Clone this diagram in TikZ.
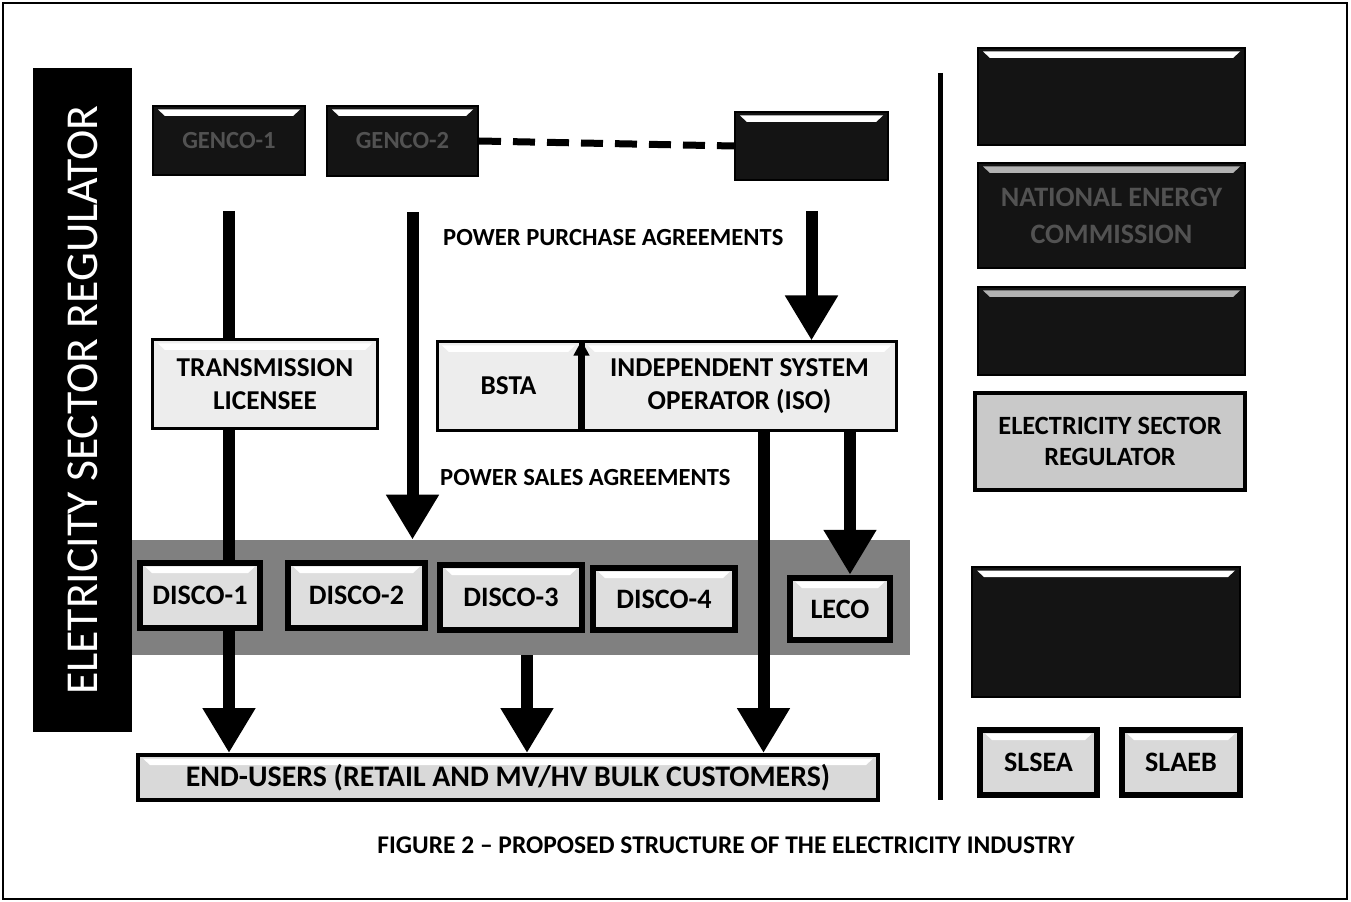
\documentclass[tikz,border=0pt]{standalone}
\usepackage{fontspec}
\setmainfont{Carlito}
\usetikzlibrary{arrows.meta,positioning}
\pgfdeclarelayer{back}
\pgfdeclarelayer{lines}
\pgfsetlayers{back,lines,main}

\begin{document}
\begin{tikzpicture}[x=0.2mm, y=-0.2mm, node distance=0mm,
 bevel/.style={path picture={\fill[#1] ([xshift=1mm,yshift=-0.7mm]path picture bounding box.north west) -- ([xshift=-1mm,yshift=-0.7mm]path picture bounding box.north east) -- ([xshift=-2.4mm,yshift=-2mm]path picture bounding box.north east) -- ([xshift=2.4mm,yshift=-2mm]path picture bounding box.north west) -- cycle;}},
 darkbox/.style={draw=black, fill=black!92, line width=0.4mm, rectangle, inner sep=0pt, align=center, text=black!68, font=\bfseries\fontsize{14}{16}\selectfont, bevel=white},
 lightbox/.style={draw=black, fill=gray!14, line width=0.6mm, rectangle, inner sep=0pt, align=center, font=\bfseries\fontsize{15.5}{19}\selectfont, bevel=white},
 discobox/.style={lightbox, fill=gray!26, line width=1.3mm, font=\bfseries\fontsize{16}{18}\selectfont},
 flow/.style={line width=2.4mm, -{Triangle[width=10mm,length=9mm]}},
 agreement/.style={anchor=west, font=\bfseries\fontsize{14}{16}\selectfont}]

 \useasboundingbox (0,0) rectangle (1351,902);
 \draw[line width=0.3mm] (3,3) rectangle (1347,899);

 % regulator bar
 \node[fill=black, rotate=90, minimum width=132.8mm, minimum height=19.8mm, text=white, font=\fontsize{26}{28}\selectfont] (bar) at (82.5,400) {ELETRICITY SECTOR REGULATOR};

 % generators
 \node[darkbox, minimum width=30.4mm, minimum height=13.8mm] (genco1) at (229,140.5) {GENCO-1};
 \node[darkbox, minimum width=30.2mm, minimum height=14mm] (genco2) at (402.5,141) {GENCO-2};
 \node[darkbox, minimum width=30.6mm, minimum height=13.6mm] (ipp) at (811.5,146) {};
 \draw[line width=1.4mm, dash pattern=on 4.4mm off 2.4mm] (genco2.east) -- (ipp.west);

 \node[agreement] (ppa) at (437,238) {POWER PURCHASE AGREEMENTS};

 % transmission and system operation
 \node[lightbox, minimum width=44.8mm, minimum height=17.6mm] (trans) at (265,384) {TRANSMISSION\\LICENSEE};
 \node[lightbox, minimum width=28.6mm, minimum height=17.6mm] (bsta) at (508.5,386) {BSTA};
 \node[lightbox, minimum width=62.6mm, minimum height=17.6mm, right=of bsta] (iso) {INDEPENDENT SYSTEM\\OPERATOR (ISO)};
 \draw[line width=1.4mm, -{Triangle[width=3mm,length=3mm]}] (bsta.south east) -- (bsta.north east);

 \node[agreement] (psa) at (434,478) {POWER SALES AGREEMENTS};

 % distribution
 \begin{pgfonlayer}{back}
 \node[fill=black!50, minimum width=156mm, minimum height=23mm, inner sep=0pt] (band) at (520,597.5) {};
 \end{pgfonlayer}
 \node[discobox, minimum width=24mm, minimum height=13mm] (disco1) at (200,595.5) {DISCO-1};
 \node[discobox, minimum width=27.4mm, minimum height=13mm] (disco2) at (356.5,595.5) {DISCO-2};
 \node[discobox, minimum width=28.4mm, minimum height=13mm] (disco3) at (511,597.5) {DISCO-3};
 \node[discobox, minimum width=28.4mm, minimum height=12.4mm] (disco4) at (664,599) {DISCO-4};
 \node[discobox, minimum width=20mm, minimum height=12.4mm] (leco) at (840,609) {LECO};

 \node[lightbox, fill=gray!30, line width=0.8mm, minimum width=148mm, minimum height=9mm, font=\bfseries\fontsize{17}{19}\selectfont] (users) at (508,777.5) {END-USERS (RETAIL AND MV/HV BULK CUSTOMERS)};

 % flows
 \begin{pgfonlayer}{lines}
 \draw[flow, shorten <=7mm] (genco1.south) -- (genco1.south |- users.north);
 \draw[flow, shorten <=7mm] ([xshift=2mm]genco2.south) -- ([xshift=2mm]genco2.south |- band.north);
 \draw[flow, shorten <=6mm] (ipp.south) -- (ipp.south |- iso.north);
 \draw[flow] ([xshift=4.8mm]iso.south) -- ([xshift=4.8mm]iso.south |- users.north);
 \draw[flow] ([xshift=2mm]leco.north |- iso.south) -- ([xshift=2mm]leco.north);
 \draw[flow] ([xshift=3.2mm]disco3.south |- band.south) -- ([xshift=3.2mm]disco3.south |- users.north);
 \end{pgfonlayer}

 % right column
 \draw[line width=1mm] (940,73) -- (940,800);
 \node[darkbox, minimum width=53.4mm, minimum height=19.4mm] (ministry) at (1111.5,96.5) {};
 \node[darkbox, minimum width=53.4mm, minimum height=21mm, bevel=gray!60, font=\bfseries\fontsize{16}{21}\selectfont] (nec) at (1111.5,215.5) {NATIONAL ENERGY\\COMMISSION};
 \node[darkbox, minimum width=53.4mm, minimum height=17.6mm, bevel=gray!60] (tribunal) at (1111.5,331) {};
 \node[lightbox, fill=gray!42, line width=0.8mm, minimum width=54mm, minimum height=19.4mm, font=\bfseries\fontsize{15}{18}\selectfont, bevel=gray!42] (esr) at (1110,441.5) {ELECTRICITY SECTOR\\REGULATOR};
 \node[darkbox, minimum width=53.6mm, minimum height=26mm] (utility) at (1106,632) {};
 \node[discobox, fill=gray!30, minimum width=23.4mm, minimum height=13mm] (slsea) at (1038.5,762.5) {SLSEA};
 \node[discobox, fill=gray!30, minimum width=23.6mm, minimum height=13mm] (slaeb) at (1181,762.5) {SLAEB};

 \node[font=\bfseries\fontsize{14.5}{16}\selectfont] (caption) at (726,845) {FIGURE 2 -- PROPOSED STRUCTURE OF THE ELECTRICITY INDUSTRY};
\end{tikzpicture}
\end{document}
